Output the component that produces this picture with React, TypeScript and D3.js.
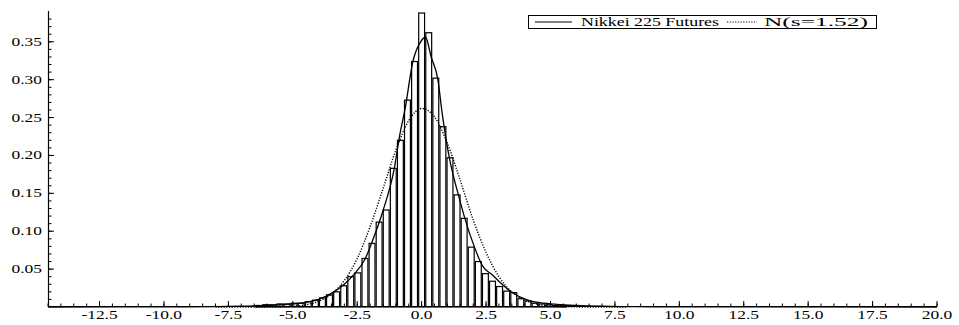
import React, { useEffect } from 'react';
import * as d3 from 'd3';

// ---- Data ----
const binWidth = 0.275;
const firstBinCenter = -6.325;
const binDensity = [
  0.002, 0.003, 0.003, 0.004, 0.004, 0.005, 0.005,
  0.007, 0.009, 0.012, 0.016, 0.020, 0.028, 0.040, 0.045, 0.064, 0.084,
  0.112, 0.128, 0.183, 0.220, 0.273, 0.324,
  0.388,
  0.362, 0.302, 0.238, 0.197, 0.148, 0.117, 0.079, 0.060, 0.044, 0.034,
  0.027, 0.021, 0.019, 0.011, 0.008, 0.005, 0.004, 0.003, 0.002, 0.002,
];

const kdeX = [-14.5, -9, -8, -7, -6, -5, -4.5, -4, -3.5, -3, -2.6, -2.2, -1.9, -1.5, -1.05, -0.86, -0.64, -0.34, -0.04, 0.15, 0.37, 0.63, 0.8, 1.08, 1.45, 1.66, 2.05, 2.35, 2.76, 3.09, 3.47, 4.12, 4.75, 5.4, 6, 7, 8, 9, 20];
const kdeY = [0, 0.0003, 0.0005, 0.001, 0.002, 0.004, 0.006, 0.010, 0.018, 0.030, 0.044, 0.063, 0.088, 0.127, 0.185, 0.225, 0.262, 0.324, 0.350, 0.356, 0.330, 0.300, 0.255, 0.196, 0.145, 0.119, 0.079, 0.055, 0.042, 0.031, 0.020, 0.009, 0.005, 0.003, 0.002, 0.001, 0.0005, 0.0003, 0];

const normX = [-8, -6, -5, -4.5, -4, -3.5, -3, -2.5, -2, -1.5, -1, -0.5, 0, 0.5, 1, 1.5, 2, 2.5, 3, 3.5, 4, 4.5, 5, 6, 8];
const normY = [0, 0.0001, 0.001, 0.003, 0.0075, 0.017, 0.035, 0.064, 0.106, 0.156, 0.207, 0.246, 0.262, 0.251, 0.216, 0.167, 0.115, 0.072, 0.040, 0.020, 0.009, 0.0036, 0.0013, 0.0001, 0];

const xMajorTicks = [-12.5, -10, -7.5, -5, -2.5, 0, 2.5, 5, 7.5, 10, 12.5, 15, 17.5, 20];
const yMajorTicks = [0.05, 0.1, 0.15, 0.2, 0.25, 0.3, 0.35];
const legendLabels = ['Nikkei 225 Futures', 'N(s=1.52)'];

const FONT = "'Liberation Serif', 'Times New Roman', serif";
const FS = 12;
const STRETCH = 1.45;

// approximate Times advance widths (em) to size stretched labels
const times: Record<string, number> = {
  '0': 0.5, '1': 0.5, '2': 0.5, '3': 0.5, '4': 0.5, '5': 0.5, '6': 0.5, '7': 0.5, '8': 0.5, '9': 0.5,
  '.': 0.25, '-': 0.333, ' ': 0.25, '(': 0.333, ')': 0.333, '=': 0.564,
  N: 0.722, F: 0.556, i: 0.278, k: 0.5, e: 0.444, u: 0.5, t: 0.278, r: 0.333, s: 0.389,
};
const textW = (s: string) => s.split('').reduce((a, c) => a + (times[c] ?? 0.5), 0) * FS * STRETCH;

function SText(props: { x: number; y: number; anchor: 'start' | 'middle' | 'end'; width?: number; children: string }) {
  const w = props.width ?? textW(props.children);
  let x0 = props.x;
  if (props.anchor === 'middle') x0 = props.x - w / 2;
  if (props.anchor === 'end') x0 = props.x - w;
  return (
    <text x={x0} y={props.y} fontFamily={FONT} fontSize={FS} textLength={w} lengthAdjust="spacingAndGlyphs">
      {props.children}
    </text>
  );
}

export default function App() {
  useEffect(() => {
    document.body.style.margin = '0';
  }, []);

  const x = d3.scaleLinear().domain([-14.5, 20]).range([48, 937]);
  const y = d3.scaleLinear().domain([0, 0.39]).range([307, 11.5]);

  const bars = binDensity.map((d, i) => {
    const c = firstBinCenter + i * binWidth;
    return { x0: c - binWidth / 2, x1: c + binWidth / 2, d };
  });

  const kdeLine = d3
    .line<number>()
    .x((_, i) => x(kdeX[i]))
    .y((v) => y(v))
    .curve(d3.curveMonotoneX)(kdeY) as string;

  const normLine = d3
    .line<number>()
    .x((_, i) => x(normX[i]))
    .y((v) => y(v))
    .curve(d3.curveMonotoneX)(normY) as string;

  const xMinor = d3.range(-29, 41).map((i) => i / 2);
  const yMinor = d3.range(1, 39).map((i) => i / 100);

  const axisX = 48.5;
  const axisY = 306.5;

  return (
    <svg width={959} height={325} style={{ position: 'absolute', left: 0, top: 0, display: 'block' }}>
      <rect x={0} y={0} width={959} height={325} fill="#fff" />
      {/* bars */}
      {bars.map((b, i) => {
        const px0 = x(b.x0);
        const px1 = x(b.x1);
        return (
          <rect
            key={i}
            x={px0 + 0.6}
            y={y(b.d)}
            width={Math.max(0, px1 - px0 - 1.2)}
            height={Math.max(0, y(0) - y(b.d))}
            fill="#fff"
            stroke="#000"
            strokeWidth={1.2}
          />
        );
      })}
      {/* normal density dotted */}
      <path d={normLine} fill="none" stroke="#000" strokeWidth={1.4} strokeDasharray="1.2,1.5" />
      {/* kernel density solid */}
      <path d={kdeLine} fill="none" stroke="#000" strokeWidth={1.3} />

      {/* axes */}
      <line x1={axisX} x2={axisX} y1={11} y2={307} stroke="#000" strokeWidth={1.2} />
      <line x1={48} x2={937} y1={axisY} y2={axisY} stroke="#000" strokeWidth={1.2} />
      {xMinor.map((t, i) => (
        <line key={'xm' + i} x1={x(t)} x2={x(t)} y1={axisY} y2={axisY - 3} stroke="#000" strokeWidth={1} />
      ))}
      {xMajorTicks.map((t, i) => (
        <line key={'xM' + i} x1={x(t)} x2={x(t)} y1={axisY} y2={axisY - 5.5} stroke="#000" strokeWidth={1} />
      ))}
      {yMinor.map((t, i) => (
        <line key={'ym' + i} x1={axisX} x2={axisX + 3} y1={y(t)} y2={y(t)} stroke="#000" strokeWidth={1} />
      ))}
      {yMajorTicks.map((t, i) => (
        <line key={'yM' + i} x1={axisX} x2={axisX + 5.5} y1={y(t)} y2={y(t)} stroke="#000" strokeWidth={1} />
      ))}
      {xMajorTicks.map((t, i) => (
        <SText key={'xl' + i} x={x(t)} y={319} anchor="middle">
          {t.toFixed(1)}
        </SText>
      ))}
      {yMajorTicks.map((t, i) => (
        <SText key={'yl' + i} x={42} y={y(t) + 4} anchor="end">
          {t.toFixed(2)}
        </SText>
      ))}

      {/* legend */}
      <rect x={528.5} y={15.5} width={348} height={13} fill="#fff" stroke="#000" strokeWidth={1} />
      <line x1={535} x2={572} y1={22} y2={22} stroke="#000" strokeWidth={1} />
      <SText x={581} y={26} anchor="start" width={138}>
        {legendLabels[0]}
      </SText>
      <line x1={727} x2={757} y1={22} y2={22} stroke="#000" strokeWidth={1.2} strokeDasharray="1.2,1.5" />
      <SText x={764} y={26} anchor="start" width={104}>
        {legendLabels[1]}
      </SText>
    </svg>
  );
}
